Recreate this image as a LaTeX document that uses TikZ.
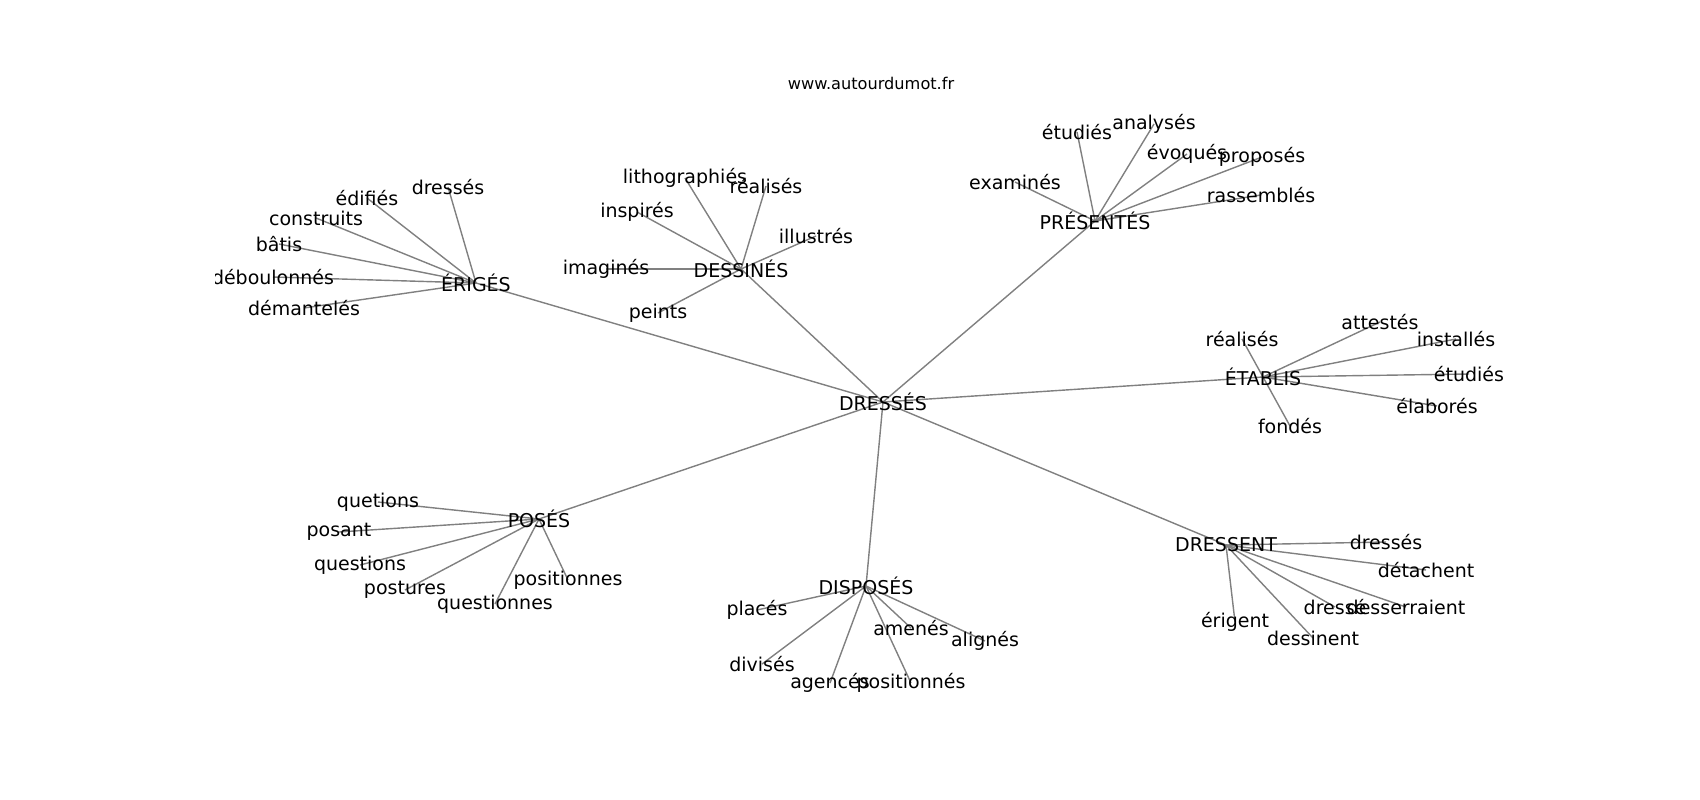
\documentclass[tikz,border=0pt]{standalone}
\usepackage{fontspec}
\setmainfont{DejaVu Sans}
\usetikzlibrary{backgrounds}
\tikzset{
  word/.style={inner sep=0pt, anchor=center, font=\fontsize{5.4}{6}\selectfont},
  title/.style={inner sep=0pt, anchor=center, font=\fontsize{4.6}{5.5}\selectfont},
  link/.style={draw=gray, line width=0.4pt}
}
\begin{document}
\begin{tikzpicture}[x=0.01cm,y=-0.01cm]
                    \useasboundingbox (0,0) rectangle (1700,800);

                    % Title
                    \node [title] (site) at (871,83) {www.autourdumot.fr};

                    % Central word and its neighbours
                    \node [word] (dresses) at (883,402) {DRESSÉS};
                    \node [word] (eriges) at (476,283) {ÉRIGÉS};
                    \node [word] (dessines) at (741,269) {DESSINÉS};
                    \node [word] (presentes) at (1095,221) {PRÉSENTÉS};
                    \node [word] (etablis) at (1263,377) {ÉTABLIS};
                    \node [word] (dressent) at (1226,545) {DRESSENT};
                    \node [word] (disposes) at (866,586) {DISPOSÉS};
                    \node [word] (poses) at (539,519) {POSÉS};

                    % Words around ERIGES
                    \node [word] (eriges-dresses) at (448,187) {dressés};
                    \node [word] (eriges-edifies) at (367,198) {édifiés};
                    \node [word] (eriges-construits) at (316,218) {construits};
                    \node [word] (eriges-batis) at (279,244) {bâtis};
                    \begin{scope}
                    % the left end of this word is cut off by the frame
                    \clip (215,0) rectangle (1700,800);
                    \node [word] (eriges-deboulonnes) at (273,277) {déboulonnés};
                    \end{scope}
                    \node [word] (eriges-demanteles) at (304,308) {démantelés};

                    % Words around DESSINES
                    \node [word] (dessines-lithographies) at (685,178) {lithographiés};
                    \node [word] (dessines-realises) at (766,186) {réalisés};
                    \node [word] (dessines-inspires) at (637,212) {inspirés};
                    \node [word] (dessines-illustres) at (816,236) {illustrés};
                    \node [word] (dessines-imagines) at (606,269) {imaginés};
                    \node [word] (dessines-peints) at (658,313) {peints};

                    % Words around PRESENTES
                    \node [word] (presentes-etudies) at (1077,132) {étudiés};
                    \node [word] (presentes-analyses) at (1154,124) {analysés};
                    \node [word] (presentes-evoques) at (1187,154) {évoqués};
                    \node [word] (presentes-proposes) at (1262,157) {proposés};
                    \node [word] (presentes-examines) at (1015,182) {examinés};
                    \node [word] (presentes-rassembles) at (1261,195) {rassemblés};

                    % Words around ETABLIS
                    \node [word] (etablis-attestes) at (1380,322) {attestés};
                    \node [word] (etablis-realises) at (1242,339) {réalisés};
                    \node [word] (etablis-installes) at (1456,339) {installés};
                    \node [word] (etablis-etudies) at (1469,374) {étudiés};
                    \node [word] (etablis-elabores) at (1437,406) {élaborés};
                    \node [word] (etablis-fondes) at (1290,426) {fondés};

                    % Words around DRESSENT
                    \node [word] (dressent-dresses) at (1386,542) {dressés};
                    \node [word] (dressent-detachent) at (1426,570) {détachent};
                    \node [word] (dressent-dresse) at (1335,607) {dressé};
                    \node [word] (dressent-desserraient) at (1406,607) {desserraient};
                    \node [word] (dressent-erigent) at (1235,622) {érigent};
                    \node [word] (dressent-dessinent) at (1313,638) {dessinent};

                    % Words around DISPOSES
                    \node [word] (disposes-places) at (757,610) {placés};
                    \node [word] (disposes-amenes) at (911,628) {amenés};
                    \node [word] (disposes-alignes) at (985,641) {alignés};
                    \node [word] (disposes-divises) at (762,664) {divisés};
                    \node [word] (disposes-agences) at (830,683) {agencés};
                    \node [word] (disposes-positionnes) at (911,683) {positionnés};

                    % Words around POSES
                    \node [word] (poses-quetions) at (378,502) {quetions};
                    \node [word] (poses-posant) at (339,532) {posant};
                    \node [word] (poses-questions) at (360,565) {questions};
                    \node [word] (poses-positionnes) at (568,580) {positionnes};
                    \node [word] (poses-postures) at (405,590) {postures};
                    \node [word] (poses-questionnes) at (495,604) {questionnes};

                    % Drawing the links under the words
                    \begin{scope}[on background layer]
                    \draw [link] (dresses.center) -- (eriges.center);%
                    \draw [link] (dresses.center) -- (dessines.center);%
                    \draw [link] (dresses.center) -- (presentes.center);%
                    \draw [link] (dresses.center) -- (etablis.center);%
                    \draw [link] (dresses.center) -- (dressent.center);%
                    \draw [link] (dresses.center) -- (disposes.center);%
                    \draw [link] (dresses.center) -- (poses.center);%

                    \draw [link] (eriges.center) -- (eriges-dresses.center);%
                    \draw [link] (eriges.center) -- (eriges-edifies.center);%
                    \draw [link] (eriges.center) -- (eriges-construits.center);%
                    \draw [link] (eriges.center) -- (eriges-batis.center);%
                    \draw [link] (eriges.center) -- (eriges-deboulonnes.center);%
                    \draw [link] (eriges.center) -- (eriges-demanteles.center);%

                    \draw [link] (dessines.center) -- (dessines-lithographies.center);%
                    \draw [link] (dessines.center) -- (dessines-realises.center);%
                    \draw [link] (dessines.center) -- (dessines-inspires.center);%
                    \draw [link] (dessines.center) -- (dessines-illustres.center);%
                    \draw [link] (dessines.center) -- (dessines-imagines.center);%
                    \draw [link] (dessines.center) -- (dessines-peints.center);%

                    \draw [link] (presentes.center) -- (presentes-etudies.center);%
                    \draw [link] (presentes.center) -- (presentes-analyses.center);%
                    \draw [link] (presentes.center) -- (presentes-evoques.center);%
                    \draw [link] (presentes.center) -- (presentes-proposes.center);%
                    \draw [link] (presentes.center) -- (presentes-examines.center);%
                    \draw [link] (presentes.center) -- (presentes-rassembles.center);%

                    \draw [link] (etablis.center) -- (etablis-attestes.center);%
                    \draw [link] (etablis.center) -- (etablis-realises.center);%
                    \draw [link] (etablis.center) -- (etablis-installes.center);%
                    \draw [link] (etablis.center) -- (etablis-etudies.center);%
                    \draw [link] (etablis.center) -- (etablis-elabores.center);%
                    \draw [link] (etablis.center) -- (etablis-fondes.center);%

                    \draw [link] (dressent.center) -- (dressent-dresses.center);%
                    \draw [link] (dressent.center) -- (dressent-detachent.center);%
                    \draw [link] (dressent.center) -- (dressent-dresse.center);%
                    \draw [link] (dressent.center) -- (dressent-desserraient.center);%
                    \draw [link] (dressent.center) -- (dressent-erigent.center);%
                    \draw [link] (dressent.center) -- (dressent-dessinent.center);%

                    \draw [link] (disposes.center) -- (disposes-places.center);%
                    \draw [link] (disposes.center) -- (disposes-amenes.center);%
                    \draw [link] (disposes.center) -- (disposes-alignes.center);%
                    \draw [link] (disposes.center) -- (disposes-divises.center);%
                    \draw [link] (disposes.center) -- (disposes-agences.center);%
                    \draw [link] (disposes.center) -- (disposes-positionnes.center);%

                    \draw [link] (poses.center) -- (poses-quetions.center);%
                    \draw [link] (poses.center) -- (poses-posant.center);%
                    \draw [link] (poses.center) -- (poses-questions.center);%
                    \draw [link] (poses.center) -- (poses-positionnes.center);%
                    \draw [link] (poses.center) -- (poses-postures.center);%
                    \draw [link] (poses.center) -- (poses-questionnes.center);%
                    \end{scope}
\end{tikzpicture}
\end{document}
